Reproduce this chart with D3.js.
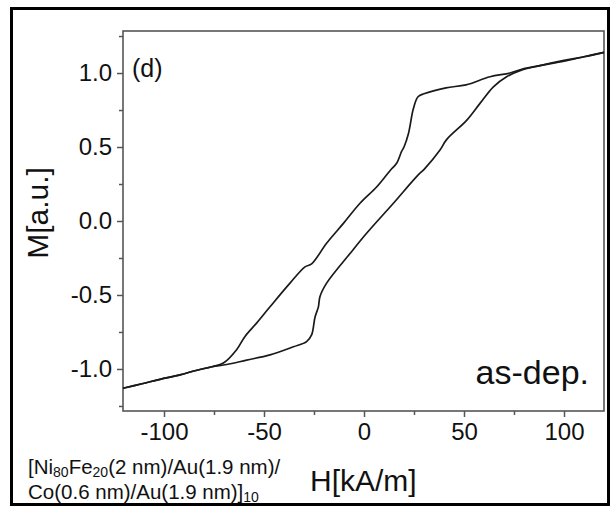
<!DOCTYPE html>
<html>
<head>
<meta charset="utf-8">
<script src="https://cdn.jsdelivr.net/npm/d3@7"></script>
<style>
  html, body { margin: 0; padding: 0; background: #fff; }
  svg { display: block; font-family: "Liberation Sans", Arial, sans-serif; }
</style>
</head>
<body>
<svg id="chart" width="615" height="509"></svg>
<script>
// Descending-field branch (H from +120 to -120)
const upperH = [120, 110, 100, 90, 80, 73, 63, 51, 41, 30, 27, 24.7, 22.2, 20, 18.8, 16.3, 13, 6.3, -2, -10.3, -18.7, -26.2, -29.5, -37, -47, -53.7, -59.5, -63.7, -70.3, -76, -84, -92, -102, -111, -120.5];
const upperM = [1.14, 1.11, 1.08, 1.055, 1.03, 1.0, 0.975, 0.92, 0.90, 0.86, 0.84, 0.76, 0.59, 0.50, 0.47, 0.39, 0.34, 0.23, 0.12, -0.016, -0.15, -0.29, -0.31, -0.42, -0.58, -0.69, -0.78, -0.87, -0.96, -0.985, -1.01, -1.04, -1.07, -1.10, -1.13];
// Ascending-field branch (H from -120 to +120)
const lowerH = [-120.5, -111, -102, -92, -84, -76, -68.7, -58.7, -47, -35.3, -28.7, -26.2, -24.5, -22.8, -22, -18.7, -7, 1.3, 14.7, 26.3, 30.5, 38, 41.3, 51.3, 58, 64.7, 71.3, 78, 88, 100, 110, 120];
const lowerM = [-1.13, -1.10, -1.07, -1.04, -1.01, -0.985, -0.97, -0.94, -0.905, -0.85, -0.815, -0.77, -0.65, -0.58, -0.51, -0.42, -0.22, -0.083, 0.12, 0.30, 0.356, 0.48, 0.55, 0.68, 0.795, 0.907, 0.975, 1.016, 1.05, 1.085, 1.11, 1.14];

const xTicks = [-100, -50, 0, 50, 100];
const xMinor = [-75, -25, 25, 75];
const yTicks = [-1.0, -0.5, 0.0, 0.5, 1.0];
const yMinor = [-1.25, -0.75, -0.25, 0.25, 0.75, 1.25];

const svg = d3.select("#chart");
const L = 123, R = 604, T = 31, B = 411;

const x = d3.scaleLinear().domain([-120.5, 120]).range([L, R]);
const y = d3.scaleLinear().domain([-1.284, 1.284]).range([B, T]);

// outer border
svg.append("rect").attr("x", 11.5).attr("y", 8.5).attr("width", 597).attr("height", 496)
  .attr("fill", "none").attr("stroke", "#000").attr("stroke-width", 3);

const axisColor = "#555";

// minor ticks
svg.append("g").attr("transform", `translate(0,${B})`)
  .call(d3.axisBottom(x).tickValues(xMinor).tickSize(4).tickFormat(""))
  .call(g => g.select(".domain").remove())
  .call(g => g.selectAll("line").attr("stroke", axisColor).attr("stroke-width", 1.5));
svg.append("g").attr("transform", `translate(${L},0)`)
  .call(d3.axisLeft(y).tickValues(yMinor).tickSize(4).tickFormat(""))
  .call(g => g.select(".domain").remove())
  .call(g => g.selectAll("line").attr("stroke", axisColor).attr("stroke-width", 1.5));

// major axes
const xAxis = svg.append("g").attr("transform", `translate(0,${B})`)
  .call(d3.axisBottom(x).tickValues(xTicks).tickSize(6).tickPadding(6).tickFormat(d3.format("d")).tickSizeOuter(0));
const yAxis = svg.append("g").attr("transform", `translate(${L},0)`)
  .call(d3.axisLeft(y).tickValues(yTicks).tickSize(6).tickPadding(5).tickFormat(d3.format(".1f")).tickSizeOuter(0));
[xAxis, yAxis].forEach(g => {
  g.select(".domain").remove();
  g.selectAll("line").attr("stroke", axisColor).attr("stroke-width", 1.5);
  g.selectAll("text").attr("font-size", 24).attr("fill", "#111")
    .attr("font-family", "'Liberation Sans', Arial, sans-serif");
});
xAxis.selectAll("text").text(d => d < 0 ? "-" + Math.abs(d) : d);
yAxis.selectAll("text").text(d => (d < 0 ? "-" : "") + Math.abs(d).toFixed(1));

// frame
svg.append("rect").attr("x", L).attr("y", T).attr("width", R - L).attr("height", B - T)
  .attr("fill", "none").attr("stroke", axisColor).attr("stroke-width", 1.6);

// curves
const line = d3.line().x(d => x(d[0])).y(d => y(d[1])).curve(d3.curveCatmullRom.alpha(0.5));
const upper = upperH.map((h, i) => [h, upperM[i]]);
const lower = lowerH.map((h, i) => [h, lowerM[i]]);
[upper, lower].forEach(data => {
  svg.append("path").datum(data).attr("d", line)
    .attr("fill", "none").attr("stroke", "#1a1a1a").attr("stroke-width", 1.7)
    .attr("stroke-linejoin", "round");
});

// annotations
svg.append("text").attr("x", 132).attr("y", 77).attr("font-size", 25).attr("fill", "#111").text("(d)");
svg.append("text").attr("x", 589).attr("y", 384).attr("text-anchor", "end").attr("font-size", 34).attr("fill", "#111").text("as-dep.");

svg.append("text").attr("transform", "translate(48,213) rotate(-90)").attr("text-anchor", "middle")
  .attr("font-size", 30).attr("fill", "#111").text("M[a.u.]");
svg.append("text").attr("x", 310).attr("y", 491)
  .attr("font-size", 30).attr("fill", "#111").text("H[kA/m]");

const cap1 = svg.append("text").attr("x", 28).attr("y", 474).attr("font-size", 20.5).attr("fill", "#111");
cap1.append("tspan").text("[Ni");
cap1.append("tspan").attr("font-size", 14).attr("dy", 3).text("80");
cap1.append("tspan").attr("dy", -3).text("Fe");
cap1.append("tspan").attr("font-size", 14).attr("dy", 3).text("20");
cap1.append("tspan").attr("dy", -3).text("(2 nm)/Au(1.9 nm)/");
const cap2 = svg.append("text").attr("x", 28).attr("y", 499).attr("font-size", 20.5).attr("fill", "#111");
cap2.append("tspan").text("Co(0.6 nm)/Au(1.9 nm)]");
cap2.append("tspan").attr("font-size", 14).attr("dy", 3).text("10");
</script>
</body>
</html>
